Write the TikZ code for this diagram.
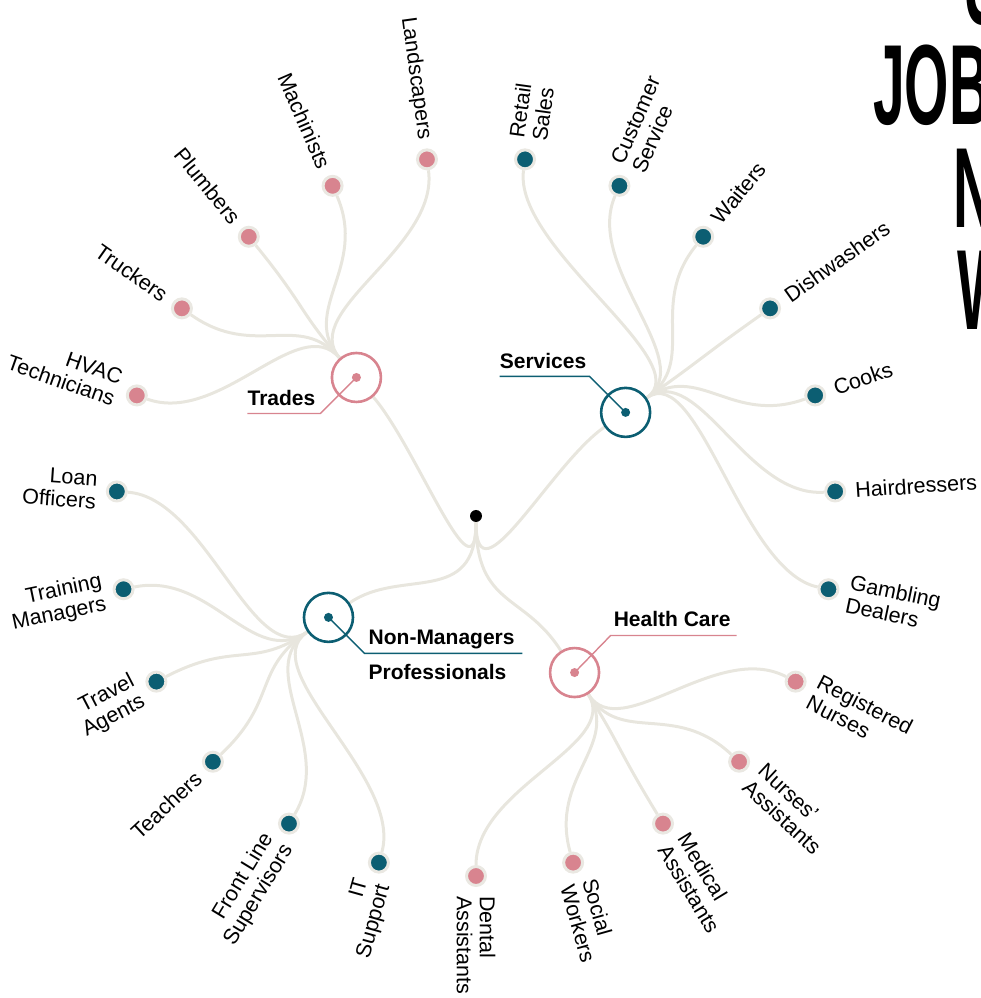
\documentclass[tikz,border=0pt]{standalone}
\usepackage{fontspec}
\setmainfont{Liberation Sans}
\newfontfamily\headfont[FakeStretch=0.5]{Liberation Sans}
\usetikzlibrary{backgrounds}

\definecolor{jobteal}{RGB}{12,94,114}
\definecolor{jobrose}{RGB}{216,132,143}
\definecolor{linkgray}{RGB}{232,230,222}
\definecolor{ringgray}{RGB}{234,232,226}

\newcommand{\jobfont}{\fontsize{21.5}{23}\selectfont}
\newcommand{\hubfont}{\fontsize{21}{23}\selectfont\bfseries}
\newcommand{\titlefont}{\headfont\bfseries\fontsize{114}{114}\selectfont}

\tikzset{
  link/.style={draw=linkgray, line width=3},
  leaf/.style={circle, draw=ringgray, line width=3, minimum size=19, inner sep=0},
  hub/.style={circle, fill=white, line width=2.6, minimum size=49, inner sep=0},
  jobr/.style={anchor=west, align=left, inner sep=0, font=\jobfont},
  jobl/.style={anchor=east, align=right, inner sep=0, font=\jobfont},
  hubtext/.style={anchor=base west, inner sep=0, font=\hubfont},
  leader/.style={line width=1.4},
  headline/.style={anchor=base west, inner sep=0, font=\titlefont}
}

\begin{document}
\begin{tikzpicture}[x=1pt,y=1pt]
  \useasboundingbox (-476,-482) rectangle (505,516);

  % heading, runs off the right edge
  \node[headline] (head-a) at (487,491) {U};
  \node[headline] (head-b) at (397,391) {JOB};
  \node[headline] (head-c) at (477,288) {N};
  \node[headline] (head-d) at (481,186) {W};

  \node[circle, fill=black, minimum size=12, inner sep=0] (root) at (0,0) {};

  % the four groups
  \begin{scope}[every node/.style={hub}]
    \node[draw=jobrose] (trades) at (130.8:183) {};
    \node[draw=jobteal] (services) at (34.7:182) {};
    \node[draw=jobteal] (nonmgr) at (214.5:179) {};
    \node[draw=jobrose] (health) at (302.2:185) {};
  \end{scope}
  \fill[jobrose] (trades) circle (4.5);
  \fill[jobteal] (services) circle (4.5);
  \fill[jobteal] (nonmgr) circle (4.5);
  \fill[jobrose] (health) circle (4.5);

  \draw[jobrose, leader] (trades.center) -- ++(-36,-36) -- ++(-73,0) coordinate (trades-end);
  \node[hubtext] (trades-t) at ([yshift=8]trades-end) {Trades};
  \draw[jobteal, leader] (services.center) -- ++(-36,36) -- ++(-90,0) coordinate (services-end);
  \node[hubtext] (services-t) at ([yshift=8]services-end) {Services};
  \draw[jobteal, leader] (nonmgr.center) -- ++(36,-36) coordinate (nonmgr-elbow) -- ++(158,0);
  \node[hubtext] (nonmgr-t) at ([shift={(4,9)}]nonmgr-elbow) {Non-Managers};
  \node[hubtext] (nonmgr-u) at ([shift={(4,-26)}]nonmgr-elbow) {Professionals};
  \draw[jobrose, leader] (health.center) -- ++(36,37) coordinate (health-elbow) -- ++(126,0);
  \node[hubtext] (health-t) at ([shift={(3,9)}]health-elbow) {Health Care};

  % jobs, one every 360/23 degrees
  \begin{scope}[every node/.style={leaf}]
    \node[fill=jobrose] (dental) at (270.00:360) {};
    \node[fill=jobrose] (social) at (285.65:360) {};
    \node[fill=jobrose] (medical) at (301.30:360) {};
    \node[fill=jobrose] (nursesast) at (316.96:360) {};
    \node[fill=jobrose] (nurses) at (332.61:360) {};
    \node[fill=jobteal] (gambling) at (348.26:360) {};
    \node[fill=jobteal] (hair) at (3.91:360) {};
    \node[fill=jobteal] (cooks) at (19.57:360) {};
    \node[fill=jobteal] (dish) at (35.22:360) {};
    \node[fill=jobteal] (waiters) at (50.87:360) {};
    \node[fill=jobteal] (customer) at (66.52:360) {};
    \node[fill=jobteal] (retail) at (82.17:360) {};
    \node[fill=jobrose] (landsc) at (97.83:360) {};
    \node[fill=jobrose] (machin) at (113.48:360) {};
    \node[fill=jobrose] (plumb) at (129.13:360) {};
    \node[fill=jobrose] (truck) at (144.78:360) {};
    \node[fill=jobrose] (hvac) at (160.43:360) {};
    \node[fill=jobteal] (loan) at (176.09:360) {};
    \node[fill=jobteal] (training) at (191.74:360) {};
    \node[fill=jobteal] (travel) at (207.39:360) {};
    \node[fill=jobteal] (teach) at (223.04:360) {};
    \node[fill=jobteal] (frontline) at (238.70:360) {};
    \node[fill=jobteal] (itsup) at (254.35:360) {};
  \end{scope}

  \node[jobr, rotate=-90] (dental-t) at (270.00:380) {Dental\\Assistants};
  \node[jobr, rotate=-74.35] (social-t) at (285.65:380) {Social\\Workers};
  \node[jobr, rotate=-58.70] (medical-t) at (301.30:380) {Medical\\Assistants};
  \node[jobr, rotate=-43.04] (nursesast-t) at (316.96:380) {Nurses’\\Assistants};
  \node[jobr, rotate=-27.39] (nurses-t) at (332.61:380) {Registered\\Nurses};
  \node[jobr, rotate=-11.74] (gambling-t) at (348.26:380) {Gambling\\Dealers};
  \node[jobr, rotate=3.91] (hair-t) at (3.91:380) {Hairdressers};
  \node[jobr, rotate=19.57] (cooks-t) at (19.57:380) {Cooks};
  \node[jobr, rotate=35.22] (dish-t) at (35.22:380) {Dishwashers};
  \node[jobr, rotate=50.87] (waiters-t) at (50.87:380) {Waiters};
  \node[jobr, rotate=66.52] (customer-t) at (66.52:380) {Customer\\Service};
  \node[jobr, rotate=82.17] (retail-t) at (82.17:380) {Retail\\Sales};
  \node[jobl, rotate=-82.17] (landsc-t) at (97.83:380) {Landscapers};
  \node[jobl, rotate=-66.52] (machin-t) at (113.48:380) {Machinists};
  \node[jobl, rotate=-50.87] (plumb-t) at (129.13:380) {Plumbers};
  \node[jobl, rotate=-35.22] (truck-t) at (144.78:380) {Truckers};
  \node[jobl, rotate=-19.57] (hvac-t) at (160.43:380) {HVAC\\Technicians};
  \node[jobl, rotate=-3.91] (loan-t) at (176.09:380) {Loan\\Officers};
  \node[jobl, rotate=11.74] (training-t) at (191.74:380) {Training\\Managers};
  \node[jobl, rotate=27.39] (travel-t) at (207.39:380) {Travel\\Agents};
  \node[jobl, rotate=43.04] (teach-t) at (223.04:380) {Teachers};
  \node[jobl, rotate=58.70] (frontline-t) at (238.70:380) {Front Line\\Supervisors};
  \node[jobl, rotate=74.35] (itsup-t) at (254.35:380) {IT\\Support};

  % links, root leaves downward
  \begin{scope}[on background layer]
    \draw[link] (root) .. controls (270:91) and (130.8:91) .. (trades);
    \draw[link] (root) .. controls (270:91) and (34.7:91) .. (services);
    \draw[link] (root) .. controls (270:91) and (214.5:91) .. (nonmgr);
    \draw[link] (root) .. controls (270:91) and (302.2:91) .. (health);

    \draw[link] (trades) .. controls (130.8:271) and (97.83:271) .. (landsc);
    \draw[link] (trades) .. controls (130.8:271) and (113.48:271) .. (machin);
    \draw[link] (trades) .. controls (130.8:271) and (129.13:271) .. (plumb);
    \draw[link] (trades) .. controls (130.8:271) and (144.78:271) .. (truck);
    \draw[link] (trades) .. controls (130.8:271) and (160.43:271) .. (hvac);

    \draw[link] (services) .. controls (34.7:271) and (348.26:271) .. (gambling);
    \draw[link] (services) .. controls (34.7:271) and (3.91:271) .. (hair);
    \draw[link] (services) .. controls (34.7:271) and (19.57:271) .. (cooks);
    \draw[link] (services) .. controls (34.7:271) and (35.22:271) .. (dish);
    \draw[link] (services) .. controls (34.7:271) and (50.87:271) .. (waiters);
    \draw[link] (services) .. controls (34.7:271) and (66.52:271) .. (customer);
    \draw[link] (services) .. controls (34.7:271) and (82.17:271) .. (retail);

    \draw[link] (nonmgr) .. controls (214.5:271) and (176.09:271) .. (loan);
    \draw[link] (nonmgr) .. controls (214.5:271) and (191.74:271) .. (training);
    \draw[link] (nonmgr) .. controls (214.5:271) and (207.39:271) .. (travel);
    \draw[link] (nonmgr) .. controls (214.5:271) and (223.04:271) .. (teach);
    \draw[link] (nonmgr) .. controls (214.5:271) and (238.70:271) .. (frontline);
    \draw[link] (nonmgr) .. controls (214.5:271) and (254.35:271) .. (itsup);

    \draw[link] (health) .. controls (302.2:271) and (270.00:271) .. (dental);
    \draw[link] (health) .. controls (302.2:271) and (285.65:271) .. (social);
    \draw[link] (health) .. controls (302.2:271) and (301.30:271) .. (medical);
    \draw[link] (health) .. controls (302.2:271) and (316.96:271) .. (nursesast);
    \draw[link] (health) .. controls (302.2:271) and (332.61:271) .. (nurses);
  \end{scope}
\end{tikzpicture}
\end{document}
